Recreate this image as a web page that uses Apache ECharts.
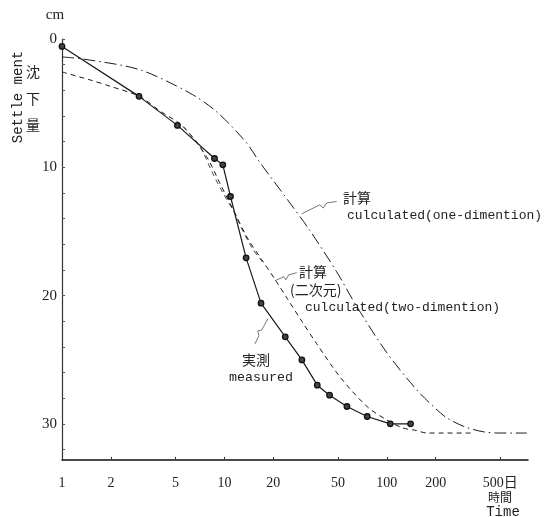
<!DOCTYPE html>
<html><head><meta charset="utf-8">
<script src="https://cdn.jsdelivr.net/npm/echarts@6/dist/echarts.min.js"></script>
<style>html,body{margin:0;padding:0;background:#fff}#c{width:558px;height:517px}</style>
</head><body><div id="c"></div>
<script>
// time (days) ticks and settlement (cm) ticks
const xTicks = [1, 2, 5, 10, 20, 50, 100, 200, 500];
const yLabels = [0, 10, 20, 30];
const yTicks = [0, 2, 4, 6, 8, 10, 12, 14, 16, 18, 20, 22, 24, 26, 28, 30, 32];

// measured (実測)
const measuredT = [1, 2.98, 5.14, 8.69, 9.78, 10.9, 13.6, 16.8, 23.7, 30.0, 37.3, 44.4, 56.8, 75.7, 105, 140];
const measuredS = [0.58, 4.47, 6.73, 9.31, 9.80, 12.27, 17.05, 20.58, 23.2, 25.0, 26.97, 27.75, 28.63, 29.41, 29.98, 29.98];

// calculated, one-dimension
const oneDimT = [1, 1.35, 3, 6.1, 8.9, 13.5, 16.5, 24.4, 33.5, 48.9, 65, 99.5, 152, 200, 233, 300, 392, 500, 728];
const oneDimS = [1.4, 1.56, 2.39, 4.2, 5.64, 8.0, 9.6, 12.5, 14.9, 18.1, 20.8, 24.4, 27.3, 28.8, 29.5, 30.2, 30.6, 30.7, 30.7];

// calculated, two-dimension (main trace)
const twoDimT = [1, 1.5, 2, 3, 4, 5.56, 7.75, 9.35, 11.85, 14, 17, 20.9, 24.6, 30, 36.8, 51.3, 75, 99.5, 125, 152, 176, 222, 333];
const twoDimS = [2.57, 3.2, 3.7, 4.47, 5.6, 6.81, 9.15, 11.2, 13.8, 15.6, 17.2, 18.9, 20.3, 22.0, 23.7, 26.3, 28.6, 29.67, 30.3, 30.5, 30.7, 30.7, 30.7];

// two-dimension: second (doubled) trace
const twoDimBT = [5.56, 7.05, 8.5, 9.8, 11.6, 12.8, 15, 17.5];
const twoDimBS = [6.81, 8.37, 10.5, 12.0, 13.6, 14.8, 16.4, 17.5];

// leader lines (data coordinates)
const leader1T = [29.9, 38.7, 40.6, 42.6, 49.1];
const leader1S = [13.62, 12.92, 13.17, 12.78, 12.66];
const leader2T = [20.45, 23.2, 23.9, 24.9, 27.9];
const leader2S = [18.84, 18.52, 18.76, 18.37, 18.21];
const leaderMT = [18.5, 17.0, 16.06, 16.3, 15.4];
const leaderMS = [21.8, 22.66, 22.74, 23.13, 23.75];

const zip = (a, b) => a.map((v, i) => [v, b[i]]);

const chart = echarts.init(document.getElementById('c'), null, {renderer: 'canvas'});
const serif = 'Liberation Serif, "Noto Sans CJK JP", serif';
const mono = 'Liberation Mono, monospace';
const cjk = '"Noto Sans CJK JP", sans-serif';
const ink = '#1a1a1a';

function leader(data) {
  return {type: 'line', data, symbol: 'none', silent: true, smooth: false,
    lineStyle: {color: '#555', width: 0.8}, z: 1};
}
function txt(x, y, text, font, size, align, extra) {
  return Object.assign({type: 'text', x, y, silent: true,
    style: {text, font: size + 'px ' + font, fill: '#222', align: align || 'left', verticalAlign: 'middle'}}, extra || {});
}

chart.setOption({
  animation: false,
  backgroundColor: '#fff',
  grid: {left: 62, right: 30, top: 39, bottom: 57, containLabel: false, outerBoundsMode: 'none'},
  xAxis: {
    type: 'log', logBase: 10, min: 1, max: 740,
    axisLine: {show: true, onZero: false, lineStyle: {color: '#111', width: 1.5}},
    axisTick: {show: true, inside: true, length: 3, customValues: xTicks, lineStyle: {color: '#333'}},
    minorTick: {show: false},
    axisLabel: {customValues: xTicks, margin: 16, color: '#222', fontFamily: serif, fontSize: 14,
      formatter: v => (Math.abs(v - 500) < 1e-6 ? '500日' : String(Math.round(v)))},
    splitLine: {show: false}
  },
  yAxis: {
    type: 'value', inverse: true, min: 0, max: 32.8, interval: 2,
    axisLine: {show: true, onZero: false, lineStyle: {color: '#333', width: 1.2}},
    axisTick: {show: true, inside: true, length: 3, customValues: yTicks, lineStyle: {color: '#555'}},
    axisLabel: {customValues: yLabels, margin: 5, color: '#222', fontFamily: serif, fontSize: 15},
    splitLine: {show: false}
  },
  series: [
    {type: 'line', name: 'one', data: zip(oneDimT, oneDimS), symbol: 'none', smooth: 0.3,
      lineStyle: {color: ink, width: 1, type: [12, 4, 1.5, 4]}},
    {type: 'line', name: 'two', data: zip(twoDimT, twoDimS), symbol: 'none', smooth: 0.3,
      lineStyle: {color: ink, width: 1, type: [5, 4]}},
    {type: 'line', name: 'twoB', data: zip(twoDimBT, twoDimBS), symbol: 'none', smooth: 0.3,
      lineStyle: {color: '#333', width: 0.9, type: [5, 4]}},
    {type: 'line', name: 'measured', data: zip(measuredT, measuredS), smooth: false,
      symbol: 'circle', symbolSize: 5.5,
      itemStyle: {color: '#444', borderColor: '#111', borderWidth: 1.3},
      lineStyle: {color: ink, width: 1.2}, z: 3},
    leader(zip(leader1T, leader1S)),
    leader(zip(leader2T, leader2S)),
    leader(zip(leaderMT, leaderMS))
  ],
  graphic: [
    txt(55, 15, 'cm', serif, 15, 'center'),
    txt(18, 97, 'Settle ment', mono, 14, 'center', {rotation: Math.PI / 2}),
    txt(33, 72, '沈', cjk, 14, 'center'),
    txt(33, 99, '下', cjk, 14, 'center'),
    txt(33, 125, '量', cjk, 14, 'center'),
    txt(343, 198, '計算', cjk, 14, 'left'),
    txt(347, 216, 'culculated(one-dimention)', mono, 13, 'left'),
    txt(299, 272, '計算', cjk, 14, 'left'),
    txt(290, 290, '(二次元)', cjk, 14, 'left'),
    txt(305, 308, 'culculated(two-dimention)', mono, 13, 'left'),
    txt(256, 360, '実測', cjk, 14, 'center'),
    txt(261, 377, 'measured', mono, 13.3, 'center'),
    txt(500, 497, '時間', cjk, 12, 'center'),
    txt(503, 512, 'Time', mono, 14, 'center')
  ]
});
</script></body></html>
